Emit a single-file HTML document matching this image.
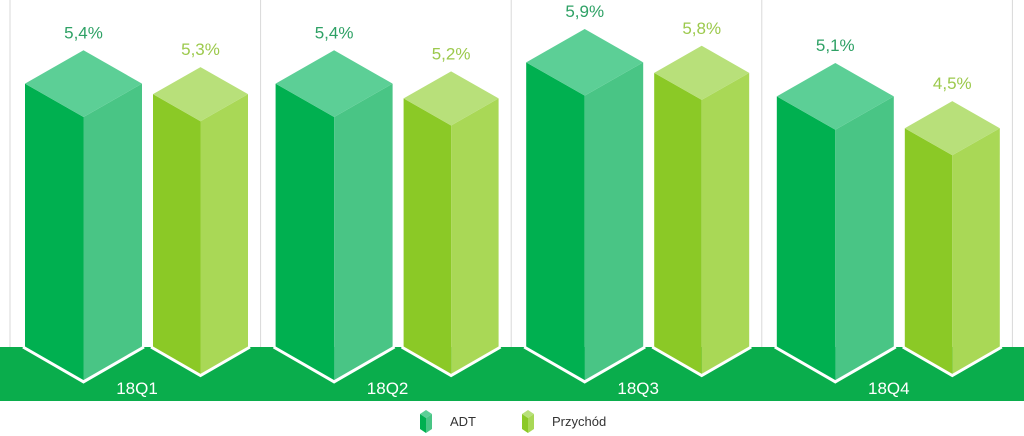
<!DOCTYPE html>
<html><head><meta charset="utf-8"><style>
html,body{margin:0;padding:0;background:#fff;}
svg{display:block;font-family:"Liberation Sans",sans-serif;}
</style></head><body>
<svg id="chart" width="1024" height="436" viewBox="0 0 1024 436">
<g id="grid"></g>
<rect x="0" y="347" width="1024" height="54" fill="#0aad4c"/>
<g id="bars"></g>
<g id="labels"></g>
<g>
  <g>
    <polygon points="420,414 426,410 432,414 426,418" fill="#5ccf96"/>
    <polygon points="420,414 426,418 426,433 420,429" fill="#00b050"/>
    <polygon points="426,418 432,414 432,429 426,433" fill="#49c585"/>
    <text x="450" y="426" font-size="13" fill="#333">ADT</text>
  </g>
  <g>
    <polygon points="522,414 528,410 534,414 528,418" fill="#b8e07a"/>
    <polygon points="522,414 528,418 528,433 522,429" fill="#8bc926"/>
    <polygon points="528,418 534,414 534,429 528,433" fill="#a9d856"/>
    <text x="552" y="426" font-size="13" fill="#333">Przychód</text>
  </g>
</g>
</svg>
<script>
const categories = ["18Q1","18Q2","18Q3","18Q4"];
const adtValues = [5.4,5.4,5.9,5.1];
const revValues = [5.3,5.2,5.8,4.5];
const adtLabels = ["5,4%","5,4%","5,9%","5,1%"];
const revLabels = ["5,3%","5,2%","5,8%","4,5%"];

const NS="http://www.w3.org/2000/svg";
const svg=document.getElementById('chart');
const grid=document.getElementById('grid');
const bars=document.getElementById('bars');
const labels=document.getElementById('labels');
const base=347, groupW=250.6, left0=10;
function yFront(v){return base - v*42.6;}
function mk(tag,attrs,parent){const e=document.createElementNS(NS,tag);for(const k in attrs)e.setAttribute(k,attrs[k]);parent.appendChild(e);return e;}

for(let i=0;i<=categories.length;i++){
  const x=left0+i*groupW;
  const l=mk('line',{x1:x,y1:0,x2:x,y2:347,stroke:'#d9d9d9','stroke-width':1},grid);
  
  
}

function drawBar(x0,w,v,cols,label,labelCol,name){
  const h=w/2, off=w*0.285;
  const cx=x0+h;
  const fa=yFront(v);          // front apex top
  const cy=fa-off;             // side corners top
  const g=mk('g',{},bars);
  
  
  mk('polygon',{points:`${x0},${cy} ${cx},${fa} ${cx},${base+off} ${x0},${base}`,fill:cols[0]},g);
  mk('polygon',{points:`${cx},${fa} ${x0+w},${cy} ${x0+w},${base} ${cx},${base+off}`,fill:cols[1]},g);
  mk('polygon',{points:`${x0},${cy} ${cx},${cy-off} ${x0+w},${cy} ${cx},${fa}`,fill:cols[2]},g);
  mk('polyline',{points:`${x0-2},${base} ${cx},${base+off+1.5} ${x0+w+2},${base}`,fill:'none',stroke:'#fff','stroke-width':3},g);
  const t=mk('text',{x:cx,y:cy-off-12,'text-anchor':'middle','font-size':17,fill:labelCol},labels);
  t.textContent=label;
  
  
}

categories.forEach((c,i)=>{
  const gx=left0+i*groupW;
  drawBar(gx+15,117,adtValues[i],['#00b050','#49c585','#5ccf96'],adtLabels[i],'#2ea165','bar-adt-'+c);
  drawBar(gx+143,95,revValues[i],['#8bc926','#a9d856','#b8e07a'],revLabels[i],'#9cc94c','bar-przychod-'+c);
  const t=mk('text',{x:gx+127,y:394,'text-anchor':'middle','font-size':17,fill:'#fff'},labels);
  t.textContent=c;
  
  
});
</script>
</body></html>
